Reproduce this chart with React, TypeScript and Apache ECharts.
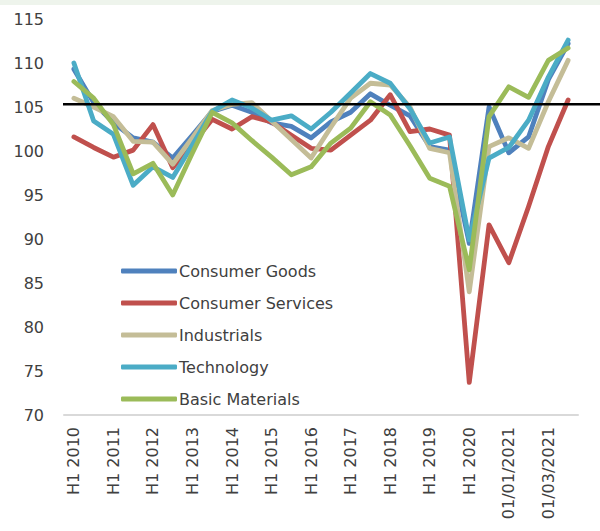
import React, { useEffect, useRef } from "react";
import * as echarts from "echarts";

const categories = [
  "H1 2010", "H2 2010", "H1 2011", "H2 2011", "H1 2012", "H2 2012",
  "H1 2013", "H2 2013", "H1 2014", "H2 2014", "H1 2015", "H2 2015",
  "H1 2016", "H2 2016", "H1 2017", "H2 2017", "H1 2018", "H2 2018",
  "H1 2019", "H2 2019", "H1 2020", "H2 2020", "01/01/2021", "01/02/2021",
  "01/03/2021", "01/04/2021",
];

const consumerGoods = [109.3, 105.5, 103.2, 101.5, 101.0, 99.2, 101.8, 104.5, 105.2, 104.4, 103.2, 102.8, 101.5, 103.3, 104.4, 106.5, 105.2, 104.0, 100.5, 100.1, 89.5, 105.0, 99.8, 101.6, 108.1, 112.2];
const consumerServices = [101.6, 100.4, 99.3, 100.1, 103.0, 98.1, 100.8, 103.6, 102.5, 103.9, 103.3, 101.8, 100.3, 100.1, 101.8, 103.5, 106.4, 102.2, 102.5, 101.8, 73.7, 91.6, 87.3, 93.7, 100.5, 105.8];
const industrials = [106.0, 105.0, 103.9, 101.1, 101.0, 98.5, 101.5, 104.6, 105.3, 105.5, 103.4, 101.3, 99.2, 102.7, 106.0, 107.7, 107.5, 105.0, 100.3, 99.8, 84.0, 100.5, 101.5, 100.3, 105.6, 110.3];
const technology = [110.0, 103.4, 101.9, 96.1, 98.2, 97.0, 100.7, 104.5, 105.8, 104.9, 103.5, 104.0, 102.5, 104.4, 106.6, 108.8, 107.7, 104.8, 100.9, 101.6, 89.9, 99.2, 100.4, 103.5, 108.4, 112.6];
const basicMaterials = [107.9, 106.0, 103.0, 97.4, 98.6, 95.0, 99.8, 104.4, 103.2, 101.2, 99.3, 97.3, 98.2, 100.9, 102.6, 105.6, 104.1, 100.6, 96.9, 96.0, 86.5, 103.9, 107.3, 106.1, 110.3, 111.7];

const seriesNames = ["Consumer Goods", "Consumer Services", "Industrials", "Technology", "Basic Materials"];
const seriesColors = ["#4F81BD", "#C0504D", "#C4BD97", "#4BACC6", "#9BBB59"];
const referenceLevel = 105.3;

const FONT = "DejaVu Sans";

export default function App() {
  const ref = useRef<HTMLDivElement>(null);
  useEffect(() => {
    if (!ref.current) return;
    const chart = echarts.init(ref.current, null, { renderer: "svg" });
    const data = [consumerGoods, consumerServices, industrials, technology, basicMaterials];
    chart.setOption({
      animation: false,
      backgroundColor: "#ffffff",
      grid: { left: 64, right: 22, top: 19, bottom: 116 },
      legend: {
        orient: "vertical",
        left: 116,
        top: 258,
        icon: "roundRect",
        itemWidth: 56,
        itemHeight: 5,
        itemGap: 16,
        textStyle: { fontFamily: FONT, fontSize: 16, color: "#404040", padding: [0, 0, 0, -3] },
        data: seriesNames,
      },
      xAxis: {
        type: "category",
        data: categories,
        boundaryGap: true,
        axisLine: { lineStyle: { color: "#d9d9d9", width: 2 } },
        axisTick: { show: false },
        axisLabel: {
          interval: 1,
          rotate: 90,
          margin: 12,
          fontFamily: FONT,
          fontSize: 16,
          color: "#404040",
        },
      },
      yAxis: {
        type: "value",
        min: 70,
        max: 115,
        interval: 5,
        axisLine: { show: false },
        axisTick: { show: false },
        splitLine: { show: false },
        axisLabel: { fontFamily: FONT, fontSize: 16, color: "#404040", margin: 20 },
      },
      series: seriesNames.map((name, i) => ({
        name,
        type: "line",
        data: data[i],
        symbol: "none",
        smooth: false,
        color: seriesColors[i],
        lineStyle: { width: 4.8, color: seriesColors[i], cap: "round", join: "round" },
      })),
    });
    const y = chart.convertToPixel({ yAxisIndex: 0 }, referenceLevel) as number;
    chart.setOption({
      graphic: [
        { type: "rect", shape: { x: 0, y: 0, width: 600, height: 5 }, style: { fill: "#eef4ec" }, z: 10 },
        {
          type: "line",
          shape: { x1: 63, y1: y, x2: 600, y2: y },
          style: { stroke: "#000000", lineWidth: 2.5 },
          z: 10,
        },
      ],
    });
    return () => chart.dispose();
  }, []);
  return <div ref={ref} style={{ position: "fixed", left: 0, top: 0, width: 600, height: 531 }} />;
}
